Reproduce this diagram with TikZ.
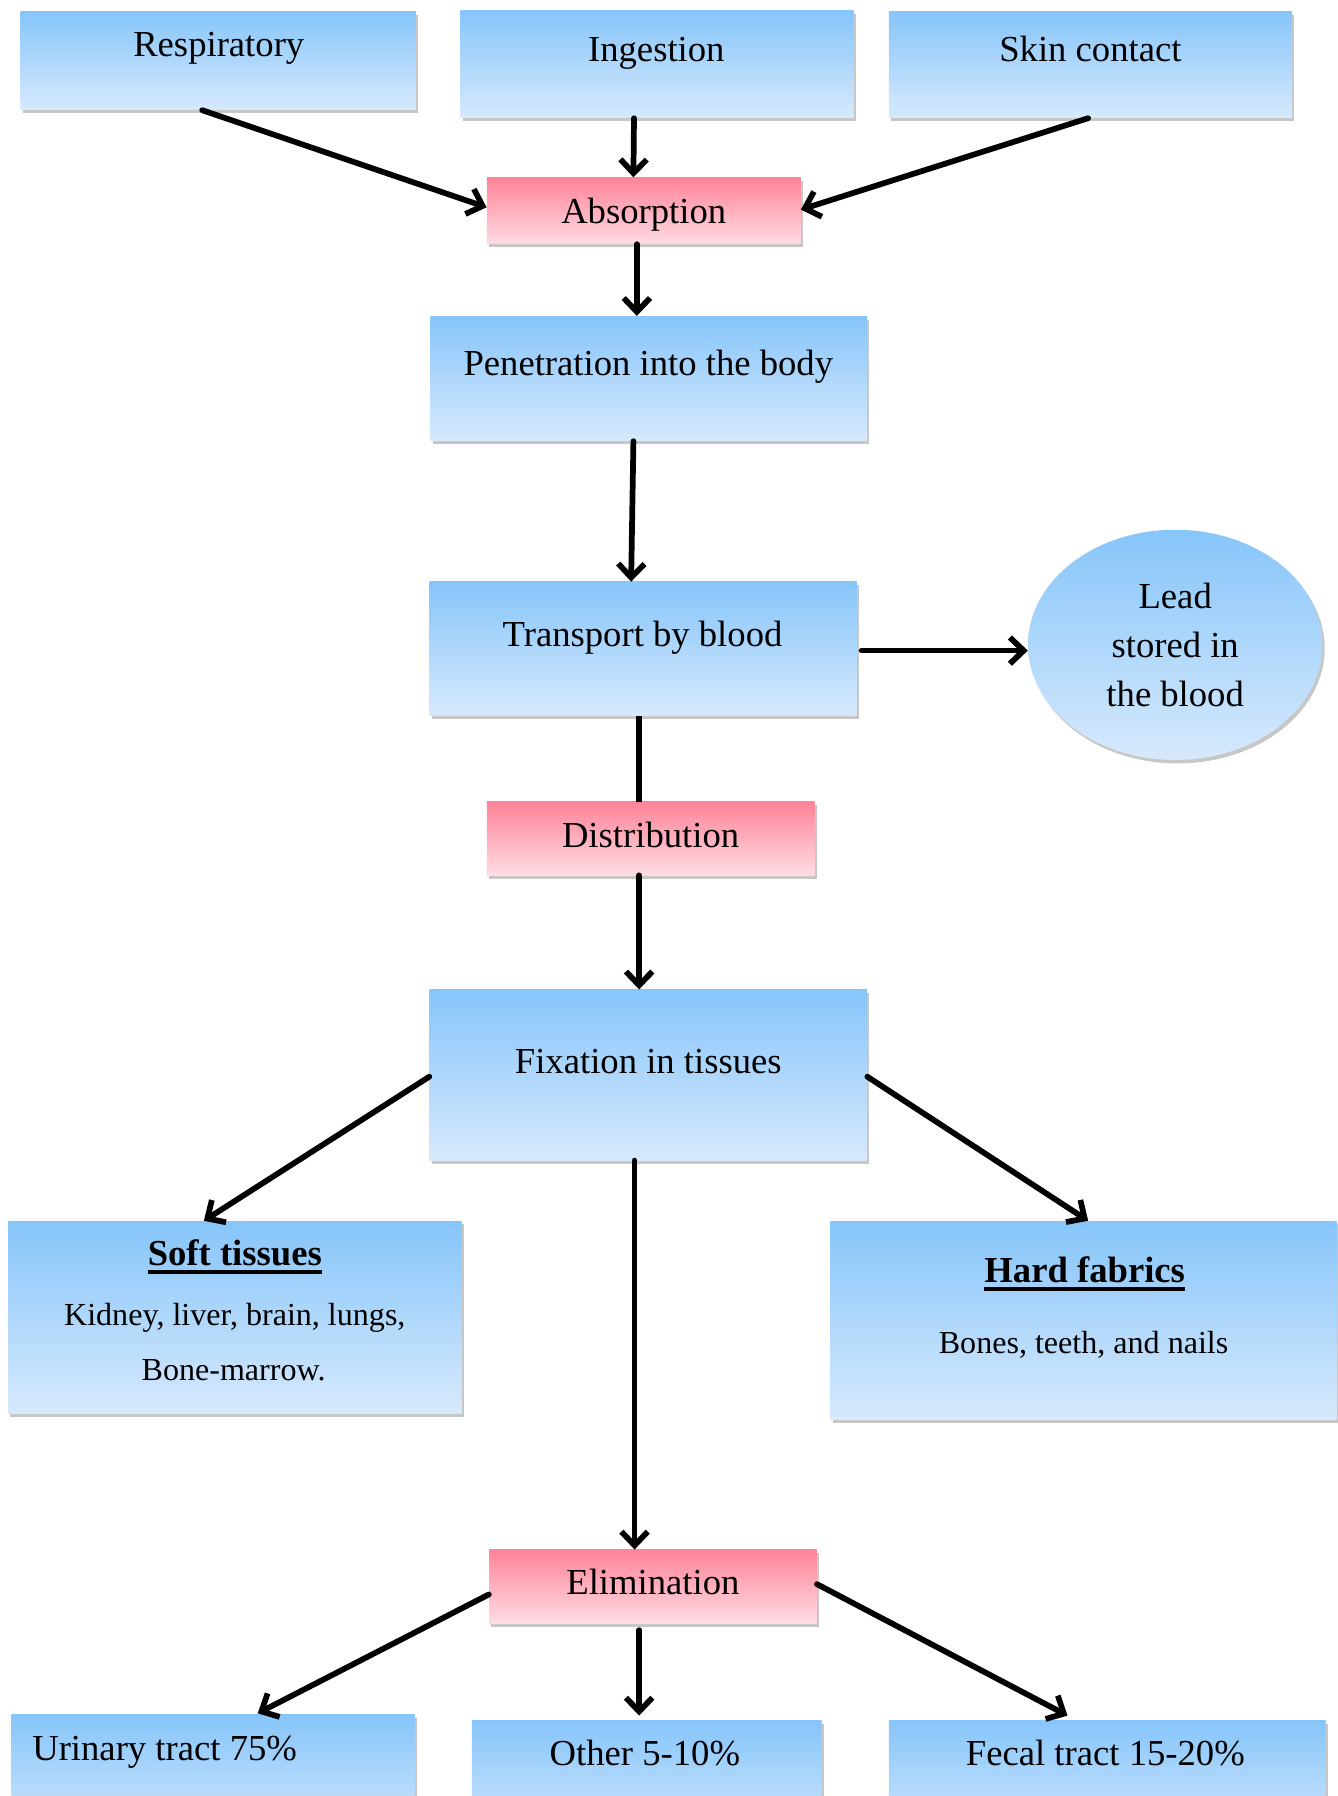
\documentclass[tikz,border=0pt]{standalone}
\usepackage{fontspec}
\setmainfont{Liberation Serif}
\usetikzlibrary{arrows.meta,shapes.geometric,shadows}
\definecolor{bluetop}{HTML}{86C5FA}
\definecolor{bluebot}{HTML}{D7E9FC}
\definecolor{pinktop}{HTML}{FF8398}
\definecolor{pinkbot}{HTML}{FFDCE3}
\newcommand\ulbf[1]{\vtop{\hbox{\bfseries #1}\kern3.5pt\hrule height 3pt}}
\newcommand\bx[6]{\node[#6, minimum width={(#4-#2)*1pt}, minimum height={(#5-#3)*1pt}] (#1) at ({(#2+#4)/2},{(#3+#5)/2}) {};}
\tikzset{
  shad/.style={drop shadow={shadow xshift=2pt,shadow yshift=-3pt,opacity=0.22,fill=black}},
  bluebox/.style={rectangle,inner sep=0pt,top color=bluetop,bottom color=bluebot,shad},
  pinkbox/.style={rectangle,inner sep=0pt,top color=pinktop,bottom color=pinkbot,shad},
  txt/.style={anchor=base,inner sep=0pt,font=\fontsize{32}{43}\selectfont},
  stxt/.style={anchor=base,inner sep=0pt,font=\fontsize{28}{38}\selectfont},
  arr/.style={line width=5pt,-{Straight Barb[length=12pt,width=23pt,line width=5pt]},line join=round,line cap=round},
  ln/.style={line width=5pt}
}
\begin{document}
\begin{tikzpicture}[x=1pt,y=-1pt]
\useasboundingbox (0,0) rectangle (1168,1568);
\clip (0,0) rectangle (1168,1568);
% boxes
\bx{resp}{18}{10}{363}{96}{bluebox}
\bx{ingest}{402}{9}{745}{103}{bluebox}
\bx{skin}{776}{10}{1128}{103}{bluebox}
\bx{absorp}{425}{155}{699}{213}{pinkbox}
\bx{pen}{376}{276}{757}{385}{bluebox}
\bx{trans}{375}{508}{748}{625}{bluebox}
\bx{dist}{425}{700}{711}{764}{pinkbox}
\bx{fix}{375}{864}{757}{1013}{bluebox}
\bx{soft}{7}{1066}{403}{1234}{bluebox}
\bx{hard}{725}{1066}{1167}{1239}{bluebox}
\bx{elim}{427}{1353}{713}{1417}{pinkbox}
\bx{urin}{10}{1497}{362}{1610}{bluebox}
\bx{other}{412}{1502}{717}{1610}{bluebox}
\bx{fecal}{776}{1502}{1157}{1610}{bluebox}
\node[ellipse,inner sep=0pt,minimum width=257pt,minimum height=201pt,top color=bluetop,bottom color=bluebot,shad,align=center,font=\fontsize{32}{43}\selectfont] (lead) at (1026,563) {Lead\\stored in\\the blood};
% texts
\node[txt] (respT) at (191,49) {Respiratory};
\node[txt] (ingestT) at (573,54) {Ingestion};
\node[txt] (skinT) at (952,54) {Skin contact};
\node[txt] (absorpT) at (562,195) {Absorption};
\node[txt] (penT) at (566,328) {Penetration into the body};
\node[txt] (transT) at (561,564) {Transport by blood};
\node[txt] (distT) at (568,740) {Distribution};
\node[txt] (fixT) at (566,937) {Fixation in tissues};
\node[txt] (softT) at (205,1105) {\ulbf{Soft tissues}};
\node[stxt] (softA) at (205,1157) {Kidney, liver, brain, lungs,};
\node[stxt] (softB) at (204,1205) {Bone-marrow.};
\node[txt] (hardT) at (947,1120) {\ulbf{Hard fabrics}};
\node[stxt] (hardA) at (946,1182) {Bones, teeth, and nails};
\node[txt] (elimT) at (570,1392) {Elimination};
\node[txt,anchor=base west] (urinT) at (28,1537) {Urinary tract 75\%};
\node[txt] (otherT) at (563,1541) {Other 5-10\%};
\node[txt] (fecalT) at (965,1541) {Fecal tract 15-20\%};
% connectors
\draw[arr] ([xshift=-14pt]resp.south) -- ([yshift=3pt]absorp.west);
\draw[arr] ([xshift=-20pt]ingest.south) -- ([xshift=-9pt]absorp.north);
\draw[arr] ([xshift=-2pt]skin.south) -- ([yshift=1pt]absorp.east);
\draw[arr] ([xshift=-6pt]absorp.south) -- ([xshift=-10.5pt]pen.north);
\draw[arr] ([xshift=-13.5pt]pen.south) -- ([xshift=-10.5pt]trans.north);
\draw[arr] ([xshift=4pt,yshift=-1.5pt]trans.east) -- ([yshift=-1.5pt]trans.east -| lead.west);
\draw[ln] ([xshift=-3.5pt]trans.south) -- ([xshift=-10pt]dist.north);
\draw[arr] ([xshift=-10pt]dist.south) -- ([xshift=-8pt]fix.north);
\draw[arr] ([yshift=-1.5pt]fix.west) -- ([xshift=-27pt]soft.north);
\draw[arr] ([yshift=-1.5pt]fix.east) -- ([xshift=4pt]hard.north);
\draw[arr] ([xshift=-12pt]fix.south) -- ([xshift=-16pt]elim.north);
\draw[arr] ([yshift=-7pt]elim.west) -- ([xshift=39pt,yshift=1pt]urin.north);
\draw[arr] ([xshift=-12pt,yshift=-6pt]elim.south) -- ([xshift=-6.5pt,yshift=4pt]other.north);
\draw[arr] ([yshift=2pt]elim.east) -- ([xshift=-34.5pt,yshift=4pt]fecal.north);
\end{tikzpicture}
\end{document}
